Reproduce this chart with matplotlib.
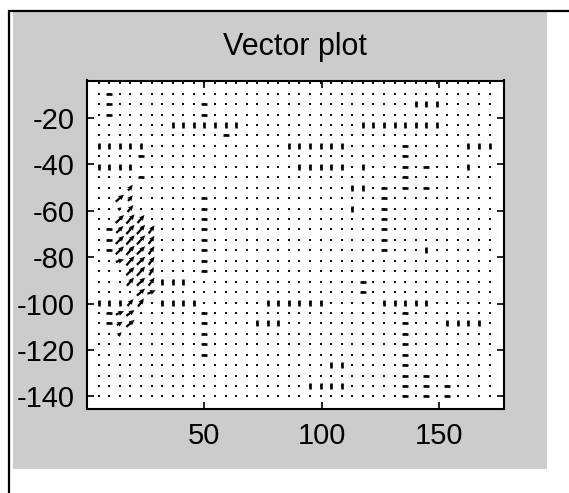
import matplotlib
matplotlib.use("Agg")
import matplotlib.pyplot as plt
from matplotlib.lines import Line2D
from matplotlib.patches import Rectangle

plt.rcParams['font.family'] = ['Liberation Sans', 'DejaVu Sans']
plt.rcParams['axes.unicode_minus'] = False

# ---------------- data ----------------
title = "Vector plot"
x_grid = [5, 9.5, 14, 18.5, 23, 27.5, 32, 36.5, 41, 45.5, 50, 54.5, 59, 63.5,
          68, 72.5, 77, 81.5, 86, 90.5, 95, 99.5, 104, 108.5, 113, 117.5, 122,
          126.5, 131, 135.5, 140, 144.5, 149, 153.5, 158, 162.5, 167, 171.5]
y_grid = [-5, -9.5, -14, -18.5, -23, -27.5, -32, -36.5, -41, -45.5, -50, -54.5,
          -59, -63.5, -68, -72.5, -77, -81.5, -86, -90.5, -95, -99.5, -104,
          -108.5, -113, -117.5, -122, -126.5, -131, -135.5, -140]
x_ticks = [50, 100, 150]
y_ticks = [-20, -40, -60, -80, -100, -120, -140]
x_limits = [0, 177.5]
y_limits = [-145.4, -3.8]

# small vertical vectors: row index -> column indices
vertical_dashes = {
    2: [30, 31, 32],
    4: [7, 8, 9, 10, 11, 12, 13, 25, 26, 27, 28, 29, 30, 31, 32],
    6: [0, 1, 2, 3, 4, 18, 19, 20, 21, 22, 23, 35, 36, 37],
    8: [0, 1, 2, 3, 19, 20, 21, 22, 23, 25, 35],
    10: [24, 25],
    12: [24],
    16: [31],
    19: [6, 7, 8],
    21: [0, 1, 2, 6, 7, 8, 9, 16, 17, 18, 19, 20, 21, 27, 28, 29, 30, 31],
    23: [15, 16, 17, 33, 34, 35, 36],
    27: [22, 23],
    29: [20, 21, 22, 23],
}
# small horizontal vectors: row index -> column indices
horizontal_dashes = {
    1: [1], 2: [1, 10], 3: [1, 10], 5: [12], 6: [29], 7: [4, 29],
    8: [29, 31], 9: [4, 29], 10: [27, 29, 31], 11: [10, 27], 12: [10, 27],
    13: [10, 27], 14: [1, 10, 27], 15: [1, 10, 27], 16: [1, 10, 27],
    17: [10], 18: [10], 19: [25], 20: [25], 22: [1, 10, 29], 23: [1, 10, 29],
    24: [10, 29], 25: [10, 29], 26: [10, 29], 27: [29], 28: [29, 31],
    29: [29, 31, 33], 30: [29, 31, 33],
}
# larger vectors in the cluster
arrow_rows = [10, 11, 11, 12, 12, 13, 13, 13, 14, 14, 14, 14, 15, 15, 15, 15,
              16, 16, 16, 16, 17, 17, 17, 17, 18, 18, 18, 19, 19, 19, 20, 20,
              21, 21, 22, 22, 23, 23, 24]
arrow_cols = [3, 2, 3, 2, 3, 2, 3, 4, 2, 3, 4, 5, 2, 3, 4, 5,
              2, 3, 4, 5, 2, 3, 4, 5, 3, 4, 5, 3, 4, 5, 4, 5,
              3, 4, 2, 3, 2, 3, 2]
arrow_u = [2.0, 3.5, 2.0, 1.5, 2.5, 3.5, 3.5, 3.0, 3.0, 3.5, 3.5, 2.5, 3.5, 3.5, 3.5, 2.5,
           3.5, 3.5, 3.5, 2.5, 3.5, 3.5, 3.5, 2.5, 3.5, 3.5, 2.0, 3.0, 3.5, 2.5, 3.5, 3.5,
           2.5, 2.5, 3.5, 3.5, 2.5, 3.5, 1.5]
arrow_v = [2.5, 3.0, 2.5, 1.0, 3.0, 3.5, 4.0, 3.5, 3.0, 4.0, 4.0, 3.5, 3.5, 4.0, 4.0, 3.5,
           3.5, 4.0, 3.5, 3.5, 1.0, 4.0, 3.5, 3.5, 3.5, 4.0, 3.5, 3.5, 3.5, 3.5, 3.0, 1.5,
           3.0, 3.5, 1.5, 2.5, 1.5, 3.0, 1.5]

# ---------------- figure ----------------
W, H = 569, 493
fig = plt.figure(figsize=(W / 100, H / 100), dpi=100, facecolor='white')

# gray panel
fig.patches.append(Rectangle((13 / W, 1 - 469 / H), (547 - 13) / W, (469 - 12) / H,
                             transform=fig.transFigure, facecolor='#cccccc',
                             edgecolor='none', zorder=-10))
# black frame lines (left and top)
fig.lines.append(Line2D([9 / W, 9 / W], [0, 1 - 10 / H], transform=fig.transFigure,
                        color='black', linewidth=1.6, solid_capstyle='butt', zorder=-5))
fig.lines.append(Line2D([8 / W, 1], [1 - 11 / H, 1 - 11 / H], transform=fig.transFigure,
                        color='black', linewidth=1.6, solid_capstyle='butt', zorder=-5))

ax = fig.add_axes([87 / W, 1 - 409 / H, (503.7 - 87) / W, (409 - 80.5) / H])
ax.set_zorder(5)
ax.set_facecolor('white')

# zero / tiny vectors drawn as dots at every grid node
dot_x = [x for y in y_grid for x in x_grid]
dot_y = [y for y in y_grid for x in x_grid]
ax.plot(dot_x, dot_y, linestyle='none', marker='s', markersize=1.8,
        markeredgewidth=0, color='#111111', zorder=2)

vx = [x_grid[c] for r, cols in vertical_dashes.items() for c in cols]
vy = [y_grid[r] for r, cols in vertical_dashes.items() for c in cols]
ax.plot(vx, vy, linestyle='none', marker='|', markersize=4.2,
        markeredgewidth=1.9, color='black', zorder=3)

hx = [x_grid[c] for r, cols in horizontal_dashes.items() for c in cols]
hy = [y_grid[r] for r, cols in horizontal_dashes.items() for c in cols]
ax.plot(hx, hy, linestyle='none', marker='_', markersize=4.8,
        markeredgewidth=1.9, color='black', zorder=3)

ax.quiver([x_grid[c] for c in arrow_cols], [y_grid[r] for r in arrow_rows],
          arrow_u, arrow_v, angles='xy', scale_units='xy', scale=1,
          pivot='middle', units='dots', width=2.2, headwidth=2.4,
          headlength=2.6, headaxislength=2.3, color='black', zorder=4)

ax.set_xlim(x_limits)
ax.set_ylim(y_limits)
ax.set_xticks(x_ticks)
ax.set_yticks(y_ticks)
ax.tick_params(direction='in', length=5, width=1.2, top=True, right=True,
               labelsize=21, pad=9, colors='black')
for s in ax.spines.values():
    s.set_linewidth(1.5)
    s.set_color('black')

ax.set_title(title, fontsize=22, pad=18, color='black')

fig.savefig('out.png', dpi=100, facecolor='white')
